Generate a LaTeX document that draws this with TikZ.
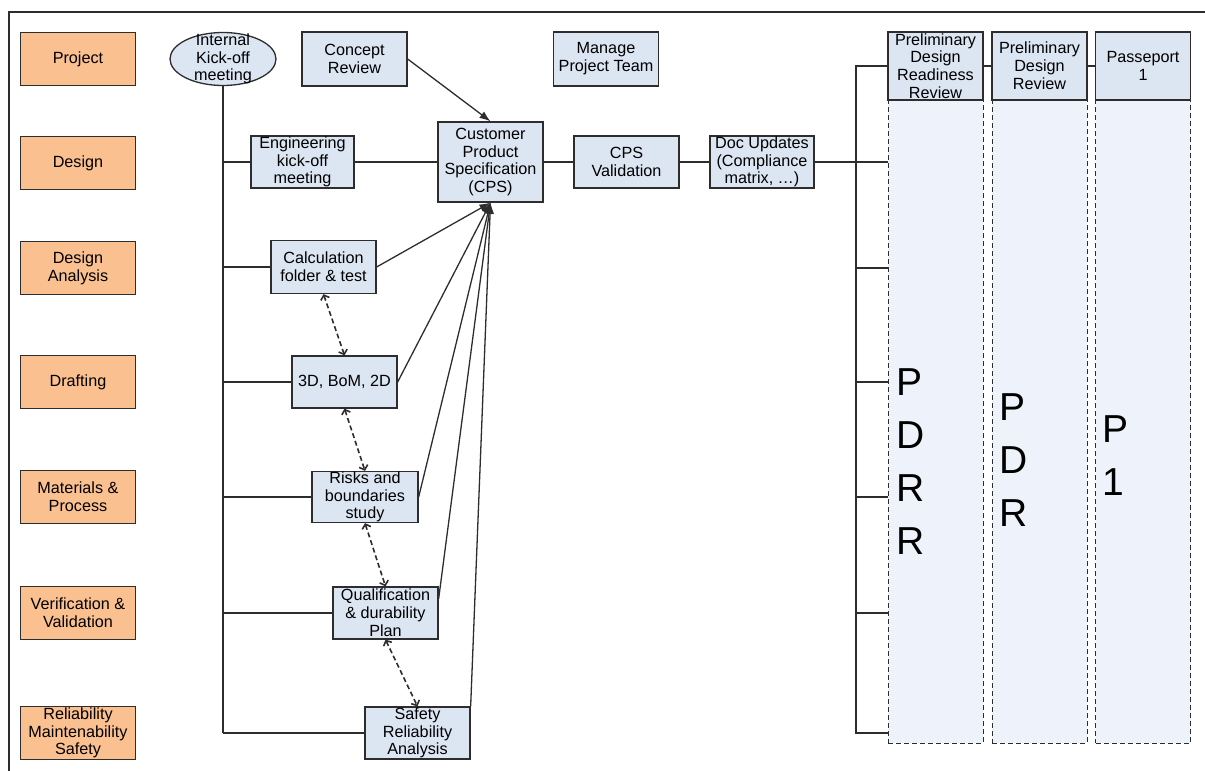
\documentclass[tikz,border=0pt]{standalone}
\usepackage{fontspec}
\setmainfont{Liberation Sans}
\usetikzlibrary{shapes.geometric,arrows.meta}
\definecolor{orangebox}{RGB}{250,192,144}
\definecolor{bluebox}{RGB}{220,230,242}
\definecolor{bluelane}{RGB}{238,242,250}
\definecolor{edge}{RGB}{45,45,45}
\begin{document}
\begin{tikzpicture}[x=1pt,y=-1pt,font=\fontsize{16.2}{17.8}\selectfont,
  role/.style={draw=edge,line width=1.3pt,fill=orangebox,minimum width=115pt,minimum height=53pt,inner sep=0pt,align=center},
  task/.style={draw=edge,line width=1.3pt,fill=bluebox,minimum width=105pt,minimum height=52pt,inner sep=0pt,align=center},
  gate/.style={draw=edge,line width=1.3pt,fill=bluebox,minimum width=95pt,minimum height=68pt,inner sep=0pt,align=center},
  lane/.style={draw=edge,line width=1pt,dash pattern=on 5pt off 3pt,fill=bluelane,minimum width=95pt,minimum height=643pt,inner sep=0pt},
  tall/.style={font=\fontsize{39}{53}\selectfont,align=left,inner sep=0pt,anchor=west},
  link/.style={draw=edge,line width=1.3pt}]
\useasboundingbox (0,0) rectangle (1205,771);
\draw[edge,line width=1.5pt] (9,771) -- (9,12) -- (1205,12);
\node[role] (A0) at (78,59) {Project};
\node[role] (A1) at (78,163) {Design};
\node[role] (A2) at (78,268) {Design\\Analysis};
\node[role] (A3) at (78,382) {Drafting};
\node[role] (A4) at (78,497) {Materials \&\\Process};
\node[role] (A5) at (78,613) {Verification \&\\Validation};
\node[role] (A6) at (78,733) {Reliability\\Maintenability\\Safety};
\node[draw=edge,line width=1.3pt,fill=bluebox,ellipse,minimum width=106pt,minimum height=53pt,inner sep=0pt] (E0) at (223,59) {};
\node[align=center,inner sep=0pt] (E1) at (E0) {Internal\\Kick-off\\meeting};
\node[task,minimum height=54pt] (B0) at (354.5,59) {Concept\\Review};
\node[task,minimum height=54pt] (B1) at (606,59) {Manage\\Project Team};
\node[task,minimum width=103pt] (B2) at (302.5,162) {Engineering\\kick-off\\meeting};
\node[task,minimum height=80pt] (B3) at (490.5,162) {Customer\\Product\\Specification\\(CPS)};
\node[task] (B4) at (626.5,162) {CPS\\Validation};
\node[task,minimum width=104pt] (B5) at (762,162) {Doc Updates\\(Compliance\\matrix, \dots)};
\node[task,minimum height=53pt] (B6) at (323.5,267) {Calculation\\folder \& test};
\node[task] (B7) at (344.5,382) {3D, BoM, 2D};
\node[task,minimum width=106pt,minimum height=51pt] (B8) at (365,497) {Risks and\\boundaries\\study};
\node[task] (B9) at (385.5,613) {Qualification\\\& durability\\Plan};
\node[task] (B10) at (417.5,733) {Safety\\Reliability\\Analysis};
\node[lane] (C0) at (935.5,421.5) {};
\node[lane] (C1) at (1039.5,421.5) {};
\node[lane] (C2) at (1143,421.5) {};
\node[gate] (G0) at (935.5,66) {Preliminary\\Design\\Readiness\\Review};
\node[gate] (G1) at (1039.5,66) {Preliminary\\Design\\Review};
\node[gate] (G2) at (1143,66) {Passeport\\1};
\node[tall] (L0) at (896,462) {P\\D\\R\\R};
\node[tall] (L1) at (999,460) {P\\D\\R};
\node[tall] (L2) at (1102,456) {P\\1};
\coordinate (S0) at (856,66);
\coordinate (S1) at (856,733);
\draw[link] (E0.south) -- (E0 |- B10);
\foreach \b in {B2,B6,B7,B8,B9,B10}
  \draw[link] (E0 |- \b) -- (\b);
\draw[link] (B2) -- (B3) (B3) -- (B4) (B4) -- (B5) (B5) -- (C0.west |- B5);
\draw[link] (G0.west) -- (S0) -- (S1) -- (C0.west |- S1);
\foreach \r in {A2,A3,A4,A5}
  \draw[link] (S0 |- \r) -- (C0.west |- \r);
\draw[link] (G0) -- (G1) (G1) -- (G2);
\draw[link,->,>={Latex[length=11pt,width=8pt]}] (B0.east) -- (B3.north);
\foreach \b in {B6,B7,B8}
  \draw[link,->,>={Latex[length=11pt,width=8pt]}] (\b.east) -- (B3.south);
\draw[link,->,>={Latex[length=11pt,width=8pt]}] (B9.15) -- (B3.south);
\draw[link,->,>={Latex[length=11pt,width=8pt]}] (B10.north east) -- (B3.south);
\foreach \a/\b in {B6/B7,B7/B8,B8/B9,B9/B10}
  \draw[link,line width=1.6pt,<->,>={Straight Barb[length=4pt,width=9pt]},dash pattern=on 5pt off 3pt] (\a.south) -- (\b.north);
\end{tikzpicture}
\end{document}
